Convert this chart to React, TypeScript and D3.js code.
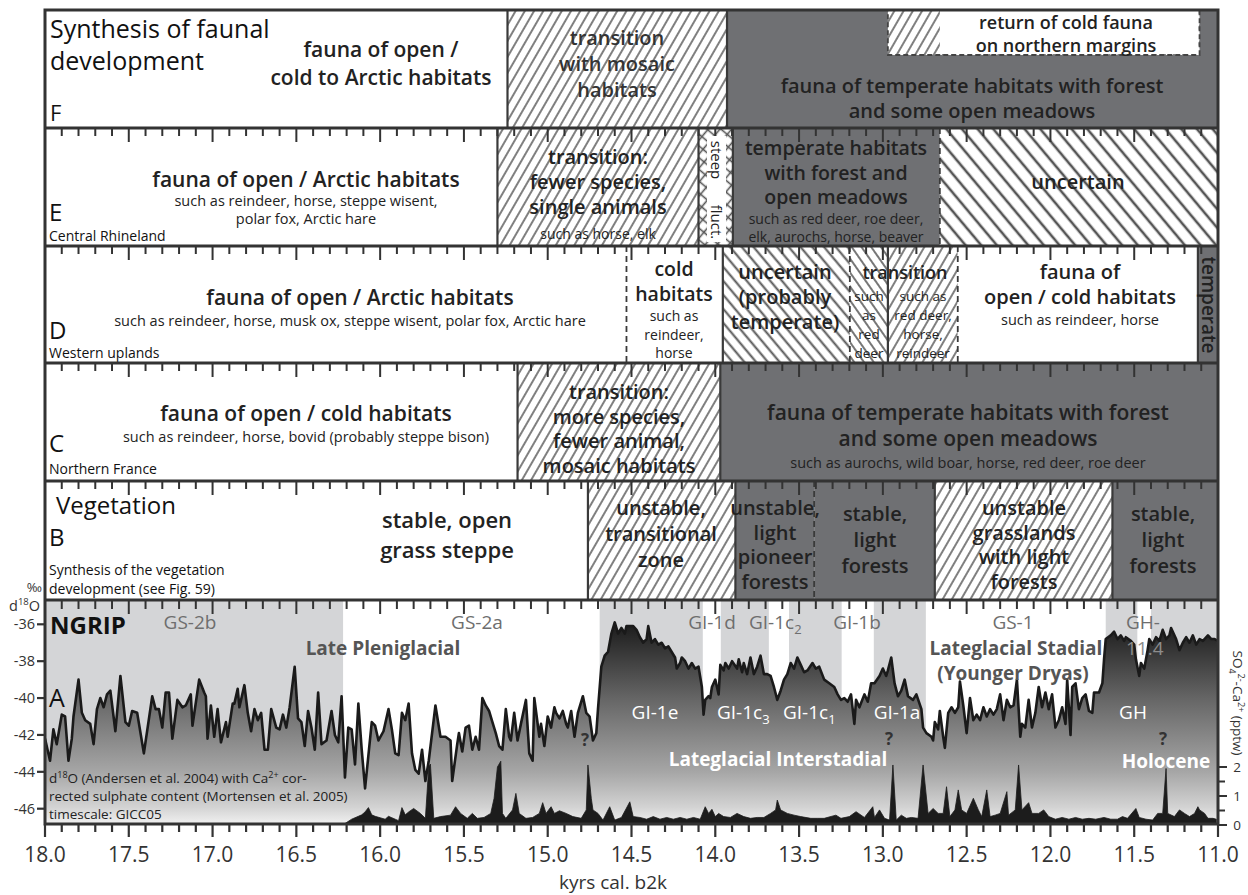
import React from "react";
import * as d3 from "d3";

// ---------------- DATA ----------------
const d18oAge = [
  18.0, 17.97, 17.95, 17.93, 17.9, 17.88, 17.86, 17.84, 17.83, 17.8, 17.78, 17.76, 17.73, 17.71, 17.69, 17.67, 17.65, 17.63, 17.61, 17.58,
  17.55, 17.52, 17.5, 17.48, 17.45, 17.41, 17.36, 17.34, 17.32, 17.3, 17.28, 17.26, 17.24, 17.21, 17.18, 17.16, 17.13, 17.12, 17.08, 17.05,
  17.04, 17.03, 17.01, 16.99, 16.97, 16.95, 16.92, 16.91, 16.88, 16.87, 16.85, 16.84, 16.81, 16.79, 16.77, 16.75, 16.73, 16.71, 16.69, 16.67,
  16.65, 16.62, 16.6, 16.58, 16.56, 16.54, 16.51, 16.49, 16.47, 16.45, 16.43, 16.41, 16.39, 16.37, 16.35, 16.32, 16.29, 16.27, 16.25, 16.23,
  16.21, 16.19, 16.17, 16.15, 16.13, 16.11, 16.09, 16.05, 16.03, 16.01, 15.98, 15.95, 15.93, 15.91, 15.89, 15.87, 15.85, 15.83, 15.81, 15.79,
  15.77, 15.75, 15.73, 15.71, 15.67, 15.64, 15.61, 15.58, 15.57, 15.54, 15.53, 15.51, 15.49, 15.47, 15.45, 15.43, 15.41, 15.39, 15.37, 15.35,
  15.33, 15.31, 15.29, 15.27, 15.25, 15.23, 15.22, 15.2, 15.18, 15.16, 15.13, 15.11, 15.09, 15.08, 15.05, 15.04, 15.02, 15.0, 14.98, 14.96,
  14.95, 14.93, 14.91, 14.89, 14.88, 14.86, 14.84, 14.82, 14.79, 14.77, 14.75, 14.73, 14.71, 14.7, 14.68, 14.66, 14.64, 14.62, 14.6, 14.58,
  14.56, 14.54, 14.53, 14.49, 14.47, 14.45, 14.43, 14.41, 14.4, 14.38, 14.36, 14.34, 14.32, 14.3, 14.28, 14.26, 14.24, 14.23, 14.21, 14.2,
  14.18, 14.16, 14.14, 14.12, 14.1, 14.08, 14.07, 14.06, 14.04, 14.03, 14.02, 14.0, 13.99, 13.98, 13.97, 13.95, 13.94, 13.92, 13.9, 13.87,
  13.86, 13.84, 13.83, 13.81, 13.79, 13.77, 13.75, 13.73, 13.71, 13.69, 13.67, 13.65, 13.63, 13.61, 13.59, 13.57, 13.55, 13.53, 13.51, 13.49,
  13.47, 13.45, 13.42, 13.4, 13.38, 13.35, 13.32, 13.29, 13.27, 13.25, 13.23, 13.21, 13.19, 13.17, 13.16, 13.14, 13.11, 13.09, 13.07, 13.05,
  13.02, 13.0, 12.98, 12.97, 12.95, 12.93, 12.91, 12.89, 12.87, 12.85, 12.82, 12.8, 12.77, 12.76, 12.74, 12.71, 12.7, 12.69, 12.67, 12.66,
  12.64, 12.63, 12.61, 12.59, 12.57, 12.55, 12.54, 12.52, 12.5, 12.48, 12.46, 12.44, 12.42, 12.4, 12.38, 12.36, 12.34, 12.32, 12.3, 12.28,
  12.26, 12.24, 12.22, 12.2, 12.18, 12.17, 12.15, 12.13, 12.11, 12.09, 12.07, 12.05, 12.03, 12.01, 11.99, 11.97, 11.95, 11.93, 11.91, 11.9,
  11.88, 11.87, 11.85, 11.83, 11.81, 11.79, 11.77, 11.75, 11.74, 11.71, 11.69, 11.68, 11.67, 11.64, 11.62, 11.6, 11.58, 11.56, 11.55, 11.52,
  11.5, 11.49, 11.47, 11.46, 11.44, 11.42, 11.41, 11.39, 11.37, 11.35, 11.33, 11.31, 11.29, 11.28, 11.25, 11.23, 11.21, 11.19, 11.17, 11.15,
  11.13, 11.11, 11.09, 11.06, 11.04, 11.02, 11.0,
];
const d18oVal = [
  -42.2, -43.4, -41.7, -42.5, -40.9, -41.0, -43.4, -42.2, -41.0, -39.0, -40.8, -41.2, -41.4, -42.5, -40.6, -40.0, -40.5, -39.8, -39.6, -41.8,
  -38.8, -41.3, -41.5, -40.7, -40.8, -43.0, -39.9, -40.6, -40.6, -41.6, -39.7, -39.7, -42.2, -40.1, -40.5, -40.4, -39.8, -41.5, -39.0, -39.7,
  -39.9, -42.2, -40.4, -42.1, -40.6, -42.4, -41.3, -42.1, -40.3, -40.3, -39.5, -40.5, -39.3, -40.8, -41.8, -40.6, -41.2, -40.8, -42.8, -42.8,
  -40.6, -41.6, -41.7, -40.9, -41.6, -40.5, -38.3, -41.1, -41.3, -42.6, -40.7, -41.6, -42.8, -39.7, -42.5, -42.3, -40.7, -42.0, -42.4, -39.9,
  -44.3, -41.6, -41.7, -43.6, -40.3, -42.8, -44.9, -41.3, -41.5, -42.3, -41.8, -40.6, -41.7, -43.0, -43.1, -40.8, -41.2, -40.3, -43.0, -43.9,
  -44.1, -42.8, -44.5, -43.4, -40.4, -42.1, -42.1, -42.3, -44.5, -42.5, -41.9, -42.9, -41.6, -41.5, -42.8, -42.1, -42.8, -40.0, -40.4, -40.7,
  -41.3, -41.9, -42.6, -42.8, -40.6, -42.1, -42.3, -40.8, -42.3, -41.4, -40.1, -43.0, -43.4, -40.0, -42.1, -41.4, -42.6, -41.0, -41.6, -40.5,
  -40.8, -41.1, -40.7, -41.4, -41.6, -40.7, -42.1, -40.8, -39.9, -40.8, -41.0, -42.3, -41.9, -40.6, -38.3, -37.7, -37.5, -36.5, -35.9, -36.5,
  -36.2, -36.5, -36.1, -36.1, -36.3, -36.7, -37.0, -36.8, -36.1, -37.0, -36.8, -37.1, -37.0, -37.3, -37.2, -37.5, -37.8, -38.4, -38.1, -37.8,
  -38.0, -38.4, -38.1, -38.4, -38.3, -39.4, -40.9, -40.1, -39.9, -40.0, -39.4, -39.0, -39.4, -39.8, -38.2, -38.5, -38.1, -38.4, -38.0, -38.4,
  -37.9, -38.6, -38.1, -38.7, -37.8, -38.7, -38.3, -37.7, -38.7, -38.7, -38.8, -39.4, -40.1, -39.6, -39.0, -38.7, -38.1, -38.4, -37.8, -38.2,
  -38.6, -38.5, -38.1, -38.4, -38.3, -39.0, -39.2, -39.4, -39.8, -40.1, -40.0, -40.2, -39.8, -41.4, -40.1, -40.5, -39.8, -40.2, -39.2, -39.2,
  -38.8, -38.4, -38.8, -38.5, -37.8, -39.2, -39.9, -39.6, -39.0, -39.9, -40.1, -39.8, -40.6, -41.6, -41.9, -42.1, -42.3, -41.3, -41.7, -40.7,
  -42.1, -42.7, -40.8, -40.5, -40.8, -40.5, -39.1, -40.4, -41.9, -40.0, -41.2, -40.9, -41.2, -40.5, -41.0, -40.6, -40.9, -40.6, -39.8, -41.2,
  -40.1, -40.5, -40.4, -39.0, -42.1, -41.4, -41.6, -40.1, -41.6, -40.8, -39.4, -40.5, -39.7, -40.6, -39.8, -41.6, -41.2, -40.5, -41.4, -39.0,
  -42.0, -39.4, -39.2, -40.6, -40.0, -39.8, -40.7, -40.8, -39.7, -39.7, -39.2, -37.9, -36.8, -36.6, -36.4, -36.8, -36.6, -36.9, -36.7, -36.9,
  -37.1, -37.9, -38.8, -38.1, -38.4, -37.4, -36.8, -37.1, -36.7, -36.9, -36.3, -36.8, -36.6, -36.2, -36.8, -37.4, -37.0, -36.7, -37.0, -36.6,
  -37.1, -36.8, -36.9, -36.6, -36.8, -36.8, -36.9,
];

const so4Age = [
  16.21, 16.17, 16.13, 16.11, 16.09, 16.07, 16.05, 16.03, 16.0, 15.97, 15.95, 15.93, 15.91, 15.89, 15.87, 15.85, 15.83, 15.8, 15.76, 15.73,
  15.71, 15.7, 15.68, 15.64, 15.58, 15.55, 15.52, 15.48, 15.45, 15.42, 15.38, 15.34, 15.32, 15.3, 15.28, 15.27, 15.25, 15.21, 15.19, 15.17,
  15.13, 15.09, 15.05, 15.03, 15.01, 14.98, 14.96, 14.93, 14.89, 14.85, 14.8, 14.77, 14.76, 14.74, 14.73, 14.7, 14.67, 14.63, 14.6, 14.56,
  14.51, 14.49, 14.45, 14.41, 14.37, 14.33, 14.29, 14.25, 14.21, 14.17, 14.13, 14.09, 14.06, 14.04, 14.02, 14.0, 13.98, 13.95, 13.91, 13.87,
  13.83, 13.79, 13.75, 13.71, 13.67, 13.64, 13.63, 13.61, 13.57, 13.53, 13.49, 13.43, 13.39, 13.35, 13.28, 13.25, 13.2, 13.16, 13.11, 13.06,
  13.05, 13.02, 12.99, 12.96, 12.94, 12.92, 12.89, 12.86, 12.83, 12.79, 12.76, 12.73, 12.7, 12.67, 12.64, 12.62, 12.6, 12.57, 12.55, 12.53,
  12.5, 12.46, 12.43, 12.41, 12.38, 12.36, 12.33, 12.3, 12.26, 12.25, 12.21, 12.19, 12.17, 12.13, 12.11, 12.07, 12.04, 12.01, 11.97, 11.93,
  11.89, 11.85, 11.81, 11.77, 11.73, 11.68, 11.64, 11.6, 11.57, 11.54, 11.49, 11.47, 11.43, 11.39, 11.36, 11.33, 11.31, 11.3, 11.26, 11.23,
  11.2, 11.17, 11.14, 11.12, 11.11, 11.08, 11.06, 11.03, 11.01,
];
const so4Val = [
  0.05, 0.2, 0.3, 0.35, 0.45, 0.6, 0.35, 0.3, 0.25, 0.2, 0.3, 0.25, 0.2, 0.15, 0.6, 0.35, 0.45, 0.57, 0.4, 0.23,
  2.0, 2.1, 0.23, 0.29, 0.34, 0.63, 0.4, 0.23, 0.4, 0.23, 0.26, 0.4, 0.92, 2.0, 2.2, 0.4, 0.23, 0.52, 1.09, 0.4,
  0.23, 0.26, 0.4, 0.77, 0.4, 0.63, 0.4, 0.49, 0.4, 0.29, 0.23, 0.52, 2.07, 0.92, 0.52, 0.4, 0.17, 0.63, 0.17, 0.26,
  0.8, 0.29, 0.26, 0.2, 0.29, 0.2, 0.26, 0.2, 0.26, 0.2, 0.26, 0.2, 0.63, 0.4, 0.54, 0.29, 0.4, 0.29, 0.26, 0.4,
  0.29, 0.23, 0.26, 0.26, 0.4, 0.52, 0.86, 0.52, 0.4, 0.34, 0.29, 0.23, 0.23, 0.23, 0.34, 0.23, 0.29, 0.46, 0.26, 0.63,
  0.26, 0.52, 0.23, 0.17, 2.07, 0.17, 0.34, 0.23, 0.26, 0.23, 2.07, 0.4, 0.57, 0.4, 0.4, 1.32, 0.29, 0.52, 1.21, 0.52,
  0.4, 0.92, 0.52, 0.29, 1.21, 0.29, 0.34, 0.4, 1.15, 0.34, 0.52, 2.07, 0.52, 0.77, 0.4, 0.4, 0.52, 0.29, 0.2, 0.26,
  0.2, 0.26, 0.2, 0.23, 0.2, 0.26, 0.2, 0.2, 0.29, 0.23, 0.57, 0.26, 0.2, 0.17, 0.4, 0.4, 1.95, 0.4, 0.29, 0.52,
  0.4, 0.29, 0.4, 0.63, 0.52, 0.4, 0.23, 0.23, 0.2,
];

// Greenland stadial / interstadial bands (kyr b2k edges), and whether shaded
const bandEdges = [18.0, 16.22, 14.69, 14.074, 13.967, 13.68, 13.56, 13.245, 13.054, 12.743, 11.67, 11.48, 11.4, 11.0];
const bandShaded = [true, false, true, false, true, false, true, false, true, false, true, false, true];

// Axis ticks
const xLabelValues = [18.0, 17.5, 17.0, 16.5, 16.0, 15.5, 15.0, 14.5, 14.0, 13.5, 13.0, 12.5, 12.0, 11.5, 11.0];
const d18oTicks = [-36, -38, -40, -42, -44, -46];
const so4Ticks = [0, 0.5, 1, 1.5, 2];
const so4Labels = [0, 1, 2];

// Synthesis rows: edges in kyr b2k and the kind of fill in each segment
const rowFEdges = [18.0, 15.24, 13.93, 11.0];
const rowFKinds = ["white", "fwd", "dark"];
const rowEEdges = [18.0, 15.3, 14.1, 13.895, 12.66, 11.0];
const rowEKinds = ["white", "fwd", "cross", "dark", "bwd"];
const rowEDashed = [false, false, false, true, false];
const rowDEdges = [18.0, 14.53, 13.955, 13.197, 12.97, 12.553, 11.12, 11.0];
const rowDKinds = ["white", "white", "bwd2", "bwd3", "fwd", "white", "dark"];
const rowDDashed = [true, false, true, false, true, false];
const rowCEdges = [18.0, 15.18, 13.97, 11.0];
const rowCKinds = ["white", "fwd", "dark"];
const rowBEdges = [18.0, 14.76, 13.88, 13.41, 12.69, 11.63, 11.0];
const rowBKinds = ["white", "fwd", "dark", "dark", "fwd", "dark"];
const rowBDashed = [false, false, true, false, false];
const returnBox = [12.97, 11.11];

// ---------------- LAYOUT ----------------
const X0 = 45;
const X1 = 1218;
const ROW = { F: [10, 128], E: [128, 246], D: [246, 363], C: [363, 481], B: [481, 600], A: [600, 824] };
const DARK = "#6f7073";
const INK = "#222";
const FONT = "'Open Sans', 'Noto Sans', sans-serif";

const x = d3.scaleLinear().domain([18, 11]).range([X0, X1]);
const yD = d3.scaleLinear().domain([-36, -46]).range([624.3, 808.7]);
const yS = d3.scaleLinear().domain([0, 2]).range([825, 767]);

const fillFor = (k: string) =>
  k === "white" ? "#fff" : k === "dark" ? DARK : `url(#p-${k})`;

function Row({ top, bot, edges, kinds, dashed, ticks = true }: any) {
  const segs = kinds.map((k: string, i: number) => (
    <rect key={"s" + i} x={x(edges[i])} y={top} width={x(edges[i + 1]) - x(edges[i])} height={bot - top} fill={fillFor(k)} />
  ));
  const seps = edges.slice(1, -1).map((e: number, i: number) => (
    <line key={"l" + i} x1={x(e)} x2={x(e)} y1={top} y2={bot} stroke="#3a3a3a"
      strokeWidth={dashed && dashed[i] ? 1.8 : 2.2} strokeDasharray={dashed && dashed[i] ? "6,4" : undefined} />
  ));
  const tk = ticks
    ? d3.range(0, 71).map((i) => {
        const v = 18 - i * 0.1;
        const major = i % 5 === 0;
        return <line key={"t" + i} x1={x(v)} x2={x(v)} y1={top} y2={top + (major ? 14 : 8)} stroke="#333" strokeWidth={2} />;
      })
    : null;
  return (
    <g>
      {segs}
      {seps}
      {tk}
    </g>
  );
}

type TL = { t: string; x: number; y: number; s?: number; w?: number; c?: string; a?: string };
function Txt({ t, x, y, s = 20, w = 600, c = INK, a = "middle" }: TL) {
  return (
    <text x={x} y={y} fontSize={s} fontWeight={w} fill={c} textAnchor={a as any} fontFamily={FONT}>
      {t}
    </text>
  );
}
function Lines({ lines, x, y0, dy, s = 20, w = 600, c = INK, a = "middle" }: any) {
  return (
    <g>
      {lines.map((t: string, i: number) => (
        <Txt key={i} t={t} x={x} y={y0 + i * dy} s={s} w={w} c={c} a={a} />
      ))}
    </g>
  );
}

export default function App() {
  const [aT, aB] = ROW.A;
  const lineGen = d3.line<number>().x((_, i) => x(d18oAge[i])).y((v) => yD(v));
  const areaGen = d3.area<number>().x((_, i) => x(d18oAge[i])).y0(aB).y1((v) => yD(v));
  const so4Area = d3.area<number>().x((_, i) => x(so4Age[i])).y0(yS(0)).y1((v) => yS(v));

  return (
    <svg width={1248} height={895} style={{ display: "block", position: "absolute", left: 0, top: 0 }} fontFamily={FONT}>
      <defs>
        <pattern id="p-fwd" width="8" height="8" patternUnits="userSpaceOnUse" patternTransform="rotate(30)">
          <rect width="8" height="8" fill="#fff" />
          <line x1="4" y1="0" x2="4" y2="8" stroke="#555" strokeWidth="1.5" />
        </pattern>
        <pattern id="p-bwd" width="12" height="12" patternUnits="userSpaceOnUse" patternTransform="rotate(-40)">
          <rect width="12" height="12" fill="#fff" />
          <line x1="6" y1="0" x2="6" y2="12" stroke="#555" strokeWidth="2.6" />
        </pattern>
        <pattern id="p-bwd2" width="9" height="9" patternUnits="userSpaceOnUse" patternTransform="rotate(-40)">
          <rect width="9" height="9" fill="#fff" />
          <line x1="4.5" y1="0" x2="4.5" y2="9" stroke="#555" strokeWidth="2" />
        </pattern>
        <pattern id="p-bwd3" width="8" height="8" patternUnits="userSpaceOnUse" patternTransform="rotate(-35)">
          <rect width="8" height="8" fill="#fff" />
          <line x1="4" y1="0" x2="4" y2="8" stroke="#555" strokeWidth="1.6" />
        </pattern>
        <pattern id="p-cross" width="9" height="9" patternUnits="userSpaceOnUse" patternTransform="rotate(40)">
          <rect width="9" height="9" fill="#fff" />
          <line x1="4.5" y1="0" x2="4.5" y2="9" stroke="#555" strokeWidth="1.6" />
          <line x1="0" y1="4.5" x2="9" y2="4.5" stroke="#555" strokeWidth="1.6" />
        </pattern>
        <linearGradient id="agrad" gradientUnits="userSpaceOnUse" x1="0" y1="618" x2="0" y2="826">
          <stop offset="0" stopColor="#161616" />
          <stop offset="0.39" stopColor="#666" />
          <stop offset="0.74" stopColor="#a6a6a6" />
          <stop offset="0.91" stopColor="#d3d3d3" />
          <stop offset="1" stopColor="#f4f4f4" />
        </linearGradient>
        <clipPath id="clipA">
          <rect x={X0} y={aT} width={X1 - X0} height={aB - aT} />
        </clipPath>
      </defs>

      <rect x={0} y={0} width={1248} height={895} fill="#fff" />

      {/* ---------- Row F ---------- */}
      <Row top={ROW.F[0]} bot={ROW.F[1]} edges={rowFEdges} kinds={rowFKinds} ticks={false} />
      <rect x={x(returnBox[0])} y={ROW.F[0]} width={x(returnBox[1]) - x(returnBox[0])} height={45} fill="url(#p-fwd)" />
      <rect x={x(returnBox[0]) + 52} y={ROW.F[0] + 1} width={x(returnBox[1]) - x(returnBox[0]) - 53} height={43} fill="#fff" />
      <rect x={x(returnBox[0])} y={ROW.F[0]} width={x(returnBox[1]) - x(returnBox[0])} height={45} fill="none" stroke="#444" strokeWidth={1.8} strokeDasharray="5,3" />
      <Lines lines={["Synthesis of faunal", "development"]} x={50} y0={38} dy={32} s={25} w={400} c="#111" a="start" />
      <Txt t="F" x={50} y={121} s={22} w={400} c="#111" a="start" />
      <Lines lines={["fauna of open /", "cold to Arctic habitats"]} x={381} y0={57} dy={28} s={21} w={600} />
      <Lines lines={["transition", "with mosaic", "habitats"]} x={617} y0={45} dy={26} s={20} w={600} c="#333" />
      <Lines lines={["return of cold fauna", "on northern margins"]} x={1066} y0={29} dy={22.5} s={18} w={600} />
      <Lines lines={["fauna of temperate habitats with forest", "and some open meadows"]} x={972} y0={93} dy={25} s={20} w={600} />

      {/* ---------- Row E ---------- */}
      <Row top={ROW.E[0]} bot={ROW.E[1]} edges={rowEEdges} kinds={rowEKinds} dashed={rowEDashed} />
      <rect x={707} y={136} width={19} height={106} fill="#fff" />
      <Txt t="fauna of open / Arctic habitats" x={306} y={187} s={21} />
      <Lines lines={["such as reindeer, horse, steppe wisent,", "polar fox, Arctic hare"]} x={306} y0={206} dy={18} s={14.5} w={400} />
      <Txt t="E" x={49} y={221} s={24} w={400} c="#111" a="start" />
      <Txt t="Central Rhineland" x={49} y={241} s={14} w={400} c="#111" a="start" />
      <Lines lines={["transition:", "fewer species,", "single animals"]} x={598} y0={164} dy={25} s={20} />
      <Txt t="such as horse, elk" x={598} y={239} s={14} w={400} />
      <text x={0} y={0} transform="translate(711,160) rotate(90)" fontSize={15} fill={INK} textAnchor="middle" fontFamily={FONT}>steep</text>
      <text x={0} y={0} transform="translate(711,222) rotate(90)" fontSize={15} fill={INK} textAnchor="middle" fontFamily={FONT}>fluct.</text>
      <Lines lines={["temperate habitats", "with forest and", "open meadows"]} x={836} y0={155} dy={24.5} s={19.5} />
      <Lines lines={["such as red deer, roe deer,", "elk, aurochs, horse, beaver"]} x={836} y0={224} dy={18} s={14} w={400} />
      <Txt t="uncertain" x={1078} y={189} s={20} />

      {/* ---------- Row D ---------- */}
      <Row top={ROW.D[0]} bot={ROW.D[1]} edges={rowDEdges} kinds={rowDKinds} dashed={rowDDashed} />
      <Txt t="fauna of open / Arctic habitats" x={360} y={305} s={21} />
      <Txt t="such as reindeer, horse, musk ox, steppe wisent, polar fox, Arctic hare" x={350} y={326} s={14.5} w={400} />
      <Txt t="D" x={49} y={339} s={24} w={400} c="#111" a="start" />
      <Txt t="Western uplands" x={49} y={358} s={14} w={400} c="#111" a="start" />
      <Lines lines={["cold", "habitats"]} x={674} y0={276} dy={24.5} s={19.5} />
      <Lines lines={["such as", "reindeer,", "horse"]} x={674} y0={321} dy={18.5} s={14} w={400} />
      <Lines lines={["uncertain", "(probably", "temperate)"]} x={785} y0={279} dy={25} s={20} />
      <Txt t="transition" x={905} y={279} s={18} />
      <Lines lines={["such", "as", "red", "deer"]} x={869} y0={301} dy={19} s={13.5} w={400} />
      <Lines lines={["such as", "red deer,", "horse,", "reindeer"]} x={923} y0={301} dy={19} s={13.5} w={400} />
      <Lines lines={["fauna of", "open / cold habitats"]} x={1080} y0={279} dy={25} s={20} />
      <Txt t="such as reindeer, horse" x={1080} y={325} s={14.5} w={400} />
      <text x={0} y={0} transform="translate(1202,305) rotate(90)" fontSize={19} fontWeight={600} fill={INK} textAnchor="middle" fontFamily={FONT}>temperate</text>

      {/* ---------- Row C ---------- */}
      <Row top={ROW.C[0]} bot={ROW.C[1]} edges={rowCEdges} kinds={rowCKinds} />
      <Txt t="fauna of open / cold habitats" x={306} y={421} s={21} />
      <Txt t="such as reindeer, horse, bovid (probably steppe bison)" x={306} y={442} s={14.5} w={400} />
      <Txt t="C" x={49} y={452} s={24} w={400} c="#111" a="start" />
      <Txt t="Northern France" x={49} y={474} s={14} w={400} c="#111" a="start" />
      <Lines lines={["transition:", "more species,", "fewer animal,", "mosaic habitats"]} x={619} y0={399} dy={24.5} s={20} />
      <Lines lines={["fauna of temperate habitats with forest", "and some open meadows"]} x={968} y0={420} dy={26} s={21} />
      <Txt t="such as aurochs, wild boar, horse, red deer, roe deer" x={968} y={468} s={14.5} w={400} />

      {/* ---------- Row B ---------- */}
      <Row top={ROW.B[0]} bot={ROW.B[1]} edges={rowBEdges} kinds={rowBKinds} dashed={rowBDashed} />
      <Txt t="Vegetation" x={56} y={514} s={24} w={500} c="#111" a="start" />
      <Txt t="B" x={49} y={546} s={24} w={400} c="#111" a="start" />
      <Lines lines={["Synthesis of the vegetation", "development (see Fig. 59)"]} x={49} y0={575} dy={19} s={14} w={400} c="#111" a="start" />
      <Lines lines={["stable, open", "grass steppe"]} x={447} y0={528} dy={30} s={22} />
      <Lines lines={["unstable,", "transitional", "zone"]} x={661} y0={515} dy={26} s={20} />
      <Lines lines={["unstable,", "light", "pioneer", "forests"]} x={775} y0={515} dy={24.5} s={20} />
      <Lines lines={["stable,", "light", "forests"]} x={875} y0={521} dy={26} s={20} />
      <Lines lines={["unstable", "grasslands", "with light", "forests"]} x={1024} y0={515} dy={24.5} s={20} />
      <Lines lines={["stable,", "light", "forests"]} x={1163} y0={521} dy={26} s={20} />

      {/* ---------- Panel A ---------- */}
      <g clipPath="url(#clipA)">
        {bandShaded.map((s, i) => (
          <rect key={i} x={x(bandEdges[i])} y={aT} width={x(bandEdges[i + 1]) - x(bandEdges[i])} height={aB - aT} fill={s ? "#d4d5d7" : "#fff"} />
        ))}
        <path d={areaGen(d18oVal) || ""} fill="url(#agrad)" />
        <path d={lineGen(d18oVal) || ""} fill="none" stroke="#1a1a1a" strokeWidth={2.6} strokeLinejoin="round" />
        <path d={so4Area(so4Val) || ""} fill="#1c1c1c" stroke="#1c1c1c" strokeWidth={0.8} />
      </g>

      {/* A labels */}
      <Txt t="NGRIP" x={50} y={634} s={24} w={700} c="#111" a="start" />
      <Txt t="A" x={49} y={707} s={25} w={400} c="#111" a="start" />
      <Txt t="GS-2b" x={190} y={629} s={19} w={400} c="#6e6e6e" />
      <Txt t="Late Pleniglacial" x={383} y={655} s={19} w={700} c="#555" />
      <Txt t="GS-2a" x={477} y={629} s={19} w={400} c="#6e6e6e" />
      <Txt t="GI-1d" x={712} y={629} s={19} w={400} c="#6e6e6e" />
      <text x={749} y={629} fontSize={19} fill="#6e6e6e" fontFamily={FONT}>GI-1c<tspan dy={5} fontSize={13}>2</tspan></text>
      <Txt t="GI-1b" x={857} y={629} s={19} w={400} c="#6e6e6e" />
      <Txt t="GS-1" x={1013} y={629} s={19} w={400} c="#6e6e6e" />
      <Txt t="GH-" x={1126} y={629} s={19} w={400} c="#6e6e6e" a="start" />
      <Txt t="Lateglacial Stadial" x={1016} y={655} s={19} w={700} c="#555" />
      <Txt t="(Younger Dryas)" x={1013} y={680} s={19} w={700} c="#555" />
      <Txt t="11.4" x={1126} y={655} s={19} w={400} c="#8c8c8c" a="start" />
      <Txt t="GI-1e" x={655} y={719} s={19} w={400} c="#fff" />
      <text x={717} y={719} fontSize={19} fill="#fff" fontFamily={FONT}>GI-1c<tspan dy={5} fontSize={13}>3</tspan></text>
      <text x={783} y={719} fontSize={19} fill="#fff" fontFamily={FONT}>GI-1c<tspan dy={5} fontSize={13}>1</tspan></text>
      <Txt t="GI-1a" x={897} y={719} s={19} w={400} c="#fff" />
      <Txt t="GH" x={1133} y={719} s={19} w={400} c="#fff" />
      <Txt t="Lateglacial Interstadial" x={778} y={766} s={19} w={700} c="#fff" />
      <Txt t="Holocene" x={1166} y={768} s={19} w={700} c="#fff" />
      <Txt t="?" x={585} y={746} s={17} w={700} c="#333" />
      <Txt t="?" x={889} y={745} s={17} w={700} c="#333" />
      <Txt t="?" x={1163} y={745} s={17} w={700} c="#333" />
      <text x={49} y={783} fontSize={13.5} fill={INK} fontFamily={FONT}>
        d<tspan dy={-5} fontSize={9}>18</tspan><tspan dy={5}>O (Andersen et al. 2004) with Ca</tspan><tspan dy={-5} fontSize={9}>2+</tspan><tspan dy={5}> cor-</tspan>
      </text>
      <Txt t="rected sulphate content (Mortensen et al. 2005)" x={49} y={801} s={13.5} w={400} a="start" />
      <Txt t="timescale: GICC05" x={49} y={819} s={13.5} w={400} a="start" />

      {/* frames */}
      {[ROW.F[1], ROW.E[1], ROW.D[1], ROW.C[1], ROW.B[1]].map((yy, i) => (
        <line key={i} x1={X0} x2={X1} y1={yy} y2={yy} stroke="#333" strokeWidth={3} />
      ))}
      <rect x={X0} y={ROW.F[0]} width={X1 - X0} height={aB - ROW.F[0]} fill="none" stroke="#333" strokeWidth={3} />

      {/* A axes: top ticks inside, bottom ticks outside */}
      {d3.range(0, 71).map((i) => {
        const v = 18 - i * 0.1;
        const major = i % 5 === 0;
        return (
          <g key={"at" + i}>
            <line x1={x(v)} x2={x(v)} y1={aT} y2={aT + (major ? 14 : 9)} stroke="#333" strokeWidth={2} />
            <line x1={x(v)} x2={x(v)} y1={aB} y2={aB + (major ? 13 : 8)} stroke="#333" strokeWidth={2.2} />
          </g>
        );
      })}
      {xLabelValues.map((v) => (
        <text key={v} x={x(v)} y={862} fontSize={21} fill="#333" textAnchor="middle" fontFamily={FONT}>
          {v.toFixed(1)}
        </text>
      ))}
      <text x={613} y={889} fontSize={19} fill="#333" textAnchor="middle" fontFamily={FONT}>kyrs cal. b2k</text>

      {/* left d18O axis */}
      {d18oTicks.map((v) => (
        <g key={v}>
          <line x1={37} x2={X0} y1={yD(v)} y2={yD(v)} stroke="#333" strokeWidth={2.2} />
          <text x={35} y={yD(v) + 5} fontSize={14.5} fill="#333" textAnchor="end" fontFamily={FONT}>{v}</text>
        </g>
      ))}
      <text x={42} y={592} fontSize={13} fill="#333" textAnchor="end" fontFamily={FONT}>‰</text>
      <text x={9} y={611} fontSize={14.5} fill="#333" fontFamily={FONT}>
        d<tspan dy={-6} fontSize={9.5}>18</tspan><tspan dy={6}>O</tspan>
      </text>

      {/* right SO4 axis */}
      {so4Ticks.map((v) => (
        <line key={v} x1={X1} x2={X1 + (Number.isInteger(v) ? 9 : 7)} y1={yS(v)} y2={yS(v)} stroke="#333" strokeWidth={2} />
      ))}
      {so4Labels.map((v) => (
        <text key={v} x={1237} y={yS(v) + 5} fontSize={13.5} fill="#333" textAnchor="middle" fontFamily={FONT}>{v}</text>
      ))}
      <text x={0} y={0} transform="translate(1233,703) rotate(90)" fontSize={13.5} fill="#333" textAnchor="middle" fontFamily={FONT}>
        SO<tspan dy={4} fontSize={9}>4</tspan><tspan dy={-9} fontSize={9}>2-</tspan><tspan dy={5}>-Ca</tspan><tspan dy={-5} fontSize={9}>2+</tspan><tspan dy={5}> (pptw)</tspan>
      </text>
    </svg>
  );
}
